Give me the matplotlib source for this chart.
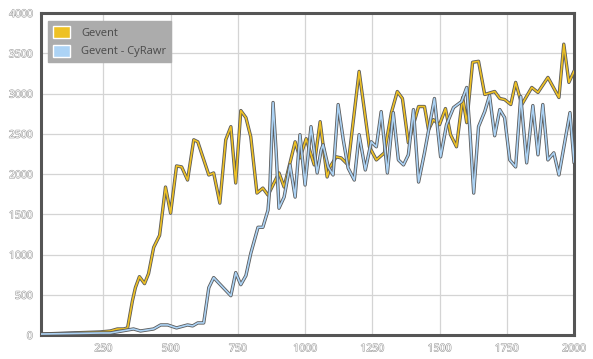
import numpy as np
import matplotlib.pyplot as plt
import matplotlib.patheffects as pe
from matplotlib.patches import Patch

plt.rcParams["font.family"] = ["Open Sans", "DejaVu Sans"]

# Gevent
gevent_x = [19, 127, 239, 276, 302, 325, 340, 358, 369, 384, 403, 418, 437, 459, 481, 500,
            522, 541, 563, 586, 601, 642, 660, 683, 705, 724, 742, 761, 780, 798, 821, 843,
            862, 903, 922, 963, 981, 1004, 1034, 1056, 1082, 1093, 1116, 1134, 1160, 1201,
            1239, 1265, 1295, 1321, 1343, 1362, 1384, 1422, 1444, 1459, 1477, 1500, 1522,
            1541, 1563, 1586, 1601, 1623, 1645, 1668, 1705, 1724, 1742, 1765, 1783, 1806,
            1843, 1866, 1903, 1944, 1962, 1981, 2000]
gevent_y = [12, 25, 38, 50, 75, 75, 88, 425, 588, 725, 638, 763, 1088, 1238, 1838, 1513,
            2100, 2088, 1925, 2425, 2400, 1988, 2013, 1638, 2425, 2588, 1888, 2788, 2700,
            2463, 1763, 1825, 1738, 2013, 1838, 2400, 2200, 2438, 2113, 2650, 1963, 2088,
            2213, 2200, 2113, 3275, 2338, 2175, 2263, 2763, 3025, 2938, 2388, 2838, 2838,
            2550, 2675, 2613, 2813, 2488, 2338, 2950, 2638, 3388, 3400, 2988, 3025, 2938,
            2925, 2863, 3138, 2863, 3075, 3013, 3200, 2950, 3613, 3138, 3275]

# Gevent - CyRawr
cyrawr_x = [19, 239, 276, 362, 388, 437, 463, 489, 522, 563, 582, 601, 623, 642, 660, 724,
            742, 761, 780, 798, 825, 843, 862, 869, 881, 892, 903, 922, 944, 963, 981, 1000,
            1022, 1045, 1060, 1067, 1086, 1104, 1123, 1142, 1160, 1183, 1201, 1224, 1246,
            1265, 1283, 1306, 1328, 1347, 1366, 1384, 1403, 1422, 1444, 1481, 1504, 1526,
            1552, 1582, 1601, 1612, 1627, 1645, 1668, 1686, 1705, 1724, 1742, 1761, 1783,
            1802, 1824, 1847, 1866, 1884, 1903, 1925, 1944, 1985, 2000]
cyrawr_y = [12, 25, 25, 75, 50, 75, 125, 125, 88, 125, 113, 150, 150, 588, 713, 488, 775,
            625, 738, 1013, 1338, 1338, 1550, 1838, 2888, 2300, 1575, 1713, 2113, 1713,
            2488, 1863, 2588, 2013, 2300, 2363, 2088, 1988, 2863, 2425, 2075, 1925, 2488,
            2050, 2400, 2338, 2775, 2013, 2763, 2175, 2113, 2238, 2800, 1900, 2263, 2938,
            2213, 2613, 2825, 2900, 3075, 2588, 1763, 2588, 2775, 2975, 2475, 2800, 2700,
            2175, 2088, 2963, 2138, 2850, 2238, 2863, 2175, 2263, 1988, 2763, 2150]

yellow = "#eec124"
blue = "#acd3f5"

fig = plt.figure(figsize=(5.93, 3.59), dpi=100)
ax = fig.add_axes([41 / 593, 24 / 359, 533 / 593, 322 / 359])

# coloured line with a thin dark outline
outline = [pe.Stroke(linewidth=2.4, foreground="#5a5a5a"), pe.Normal()]
ax.plot(gevent_x, gevent_y, color=yellow, lw=1.2, path_effects=outline, zorder=3)
ax.plot(cyrawr_x, cyrawr_y, color=blue, lw=1.2, path_effects=outline, zorder=4)

ax.set_xlim(18, 2000)
ax.set_ylim(0, 4000)
ax.set_xticks([250, 500, 750, 1000, 1250, 1500, 1750, 2000])
ax.set_yticks(np.arange(0, 4001, 500))
ax.grid(True, color="#d4d4d4", lw=0.9)
ax.set_axisbelow(True)

for s in ax.spines.values():
    s.set_color("#555555")
    s.set_linewidth(2.2)

ax.tick_params(length=0, pad=6, labelsize=7.5, labelcolor="white")
hollow = [pe.withStroke(linewidth=0.8, foreground="#a0a0a0")]
for lab in ax.get_xticklabels() + ax.get_yticklabels():
    lab.set_path_effects(hollow)

handles = [Patch(facecolor=yellow, edgecolor="white", lw=1, label="Gevent"),
           Patch(facecolor=blue, edgecolor="white", lw=1, label="Gevent - CyRawr")]
leg = ax.legend(handles=handles, loc="upper left", bbox_to_anchor=(0.003, 0.993),
                fontsize=8, frameon=True, fancybox=False, framealpha=1,
                facecolor="#acacac", edgecolor="#acacac", handlelength=1.5,
                handleheight=1.3, borderpad=0.45, labelspacing=0.55, handletextpad=1.0)
for t in leg.get_texts():
    t.set_color("#4a4a4a")

fig.savefig("out.png", dpi=100)
